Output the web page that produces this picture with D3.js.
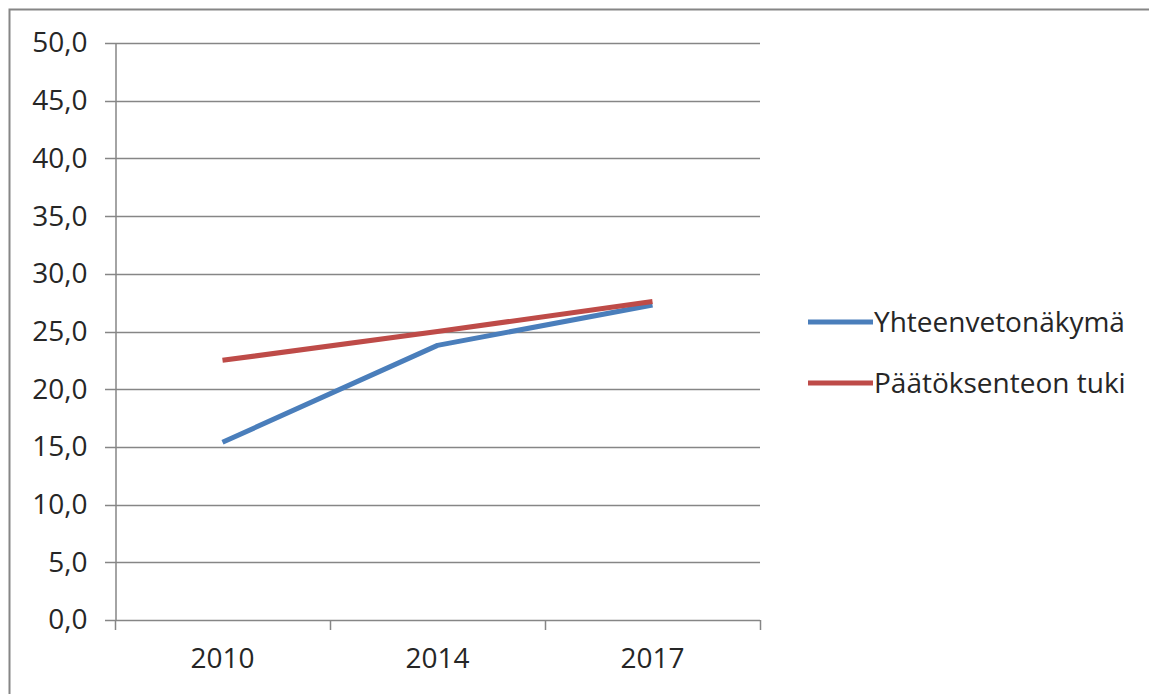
<!DOCTYPE html>
<html>
<head>
<meta charset="utf-8">
<script src="https://cdn.jsdelivr.net/npm/d3@7"></script>
<style>
  body { margin: 0; background: #fff; }
  svg { display: block; font-family: 'Open Sans', sans-serif; }
</style>
</head>
<body>
<div id="chart"></div>
<script>
// data ---------------------------------------------------------------
const years = ['2010', '2014', '2017'];
const seriesNames = ['Yhteenvetonäkymä', 'Päätöksenteon tuki'];
const yhteenveto = [15.4, 23.8, 27.3];
const paatoksenteko = [22.5, 25.0, 27.6];
const yTicks = [0, 5, 10, 15, 20, 25, 30, 35, 40, 45, 50];
const colors = ['#4a7ebb', '#be4b48'];

const width = 1149;
const height = 694;
const margin = {left: 115, right: 389, top: 43, bottom: 74};
const fontSize = 28;

const svg = d3.select('#chart').append('svg')
  .attr('width', width)
  .attr('height', height);

// outer frame
svg.append('rect')
  .attr('x', 9.5).attr('y', 9.5)
  .attr('width', width + 10).attr('height', height + 10)
  .attr('fill', 'none')
  .attr('stroke', '#868686')
  .attr('stroke-width', 2);

// scales
const x = d3.scaleBand()
  .domain(years)
  .range([margin.left, width - margin.right]);
const y = d3.scaleLinear()
  .domain([0, 50])
  .range([height - margin.bottom, margin.top]);

// gridlines
svg.append('g')
  .selectAll('line')
  .data(yTicks)
  .enter()
  .append('line')
  .attr('x1', margin.left - 10)
  .attr('x2', width - margin.right)
  .attr('y1', d => Math.round(y(d)) + 0.5)
  .attr('y2', d => Math.round(y(d)) + 0.5)
  .attr('stroke', '#868686')
  .attr('stroke-width', 1.5);

// y axis
const yAxis = svg.append('g')
  .attr('transform', `translate(${margin.left + 0.5},0)`)
  .call(d3.axisLeft(y).tickValues(yTicks).tickSize(0).tickPadding(28)
    .tickFormat(d => d3.format('.1f')(d).replace('.', ',')));
yAxis.select('.domain').attr('stroke', '#868686').attr('stroke-width', 1.5);
yAxis.selectAll('text')
  .attr('font-size', fontSize)
  .attr('fill', '#262626')
  .attr('font-family', "'Open Sans', sans-serif");

// x axis ticks at band edges
const xEdges = years.map(d => x(d)).concat([x(years[years.length - 1]) + x.bandwidth()]);
svg.append('g')
  .selectAll('line')
  .data(xEdges)
  .enter()
  .append('line')
  .attr('x1', d => Math.round(d) + 0.5)
  .attr('x2', d => Math.round(d) + 0.5)
  .attr('y1', y(0))
  .attr('y2', y(0) + 10)
  .attr('stroke', '#868686')
  .attr('stroke-width', 1.5);

svg.append('g')
  .selectAll('text')
  .data(years)
  .enter()
  .append('text')
  .attr('x', d => x(d) + x.bandwidth() / 2)
  .attr('y', y(0) + 48)
  .attr('text-anchor', 'middle')
  .attr('font-size', fontSize)
  .attr('fill', '#262626')
  .text(d => d);

// lines
const line = d3.line()
  .x((d, i) => x(years[i]) + x.bandwidth() / 2)
  .y(d => y(d));

[yhteenveto, paatoksenteko].forEach((vals, i) => {
  svg.append('path')
    .datum(vals)
    .attr('d', line)
    .attr('fill', 'none')
    .attr('stroke', colors[i])
    .attr('stroke-width', 5)
    .attr('stroke-linejoin', 'round');
});

// legend
const legend = svg.append('g')
  .selectAll('g')
  .data(seriesNames)
  .enter()
  .append('g')
  .attr('transform', (d, i) => `translate(808,${322 + i * 61})`);
legend.append('line')
  .attr('x1', 0).attr('x2', 65)
  .attr('stroke', (d, i) => colors[i])
  .attr('stroke-width', 5);
legend.append('text')
  .attr('x', 66)
  .attr('dy', '0.35em')
  .attr('font-size', fontSize)
  .attr('fill', '#262626')
  .text(d => d);
</script>
</body>
</html>
